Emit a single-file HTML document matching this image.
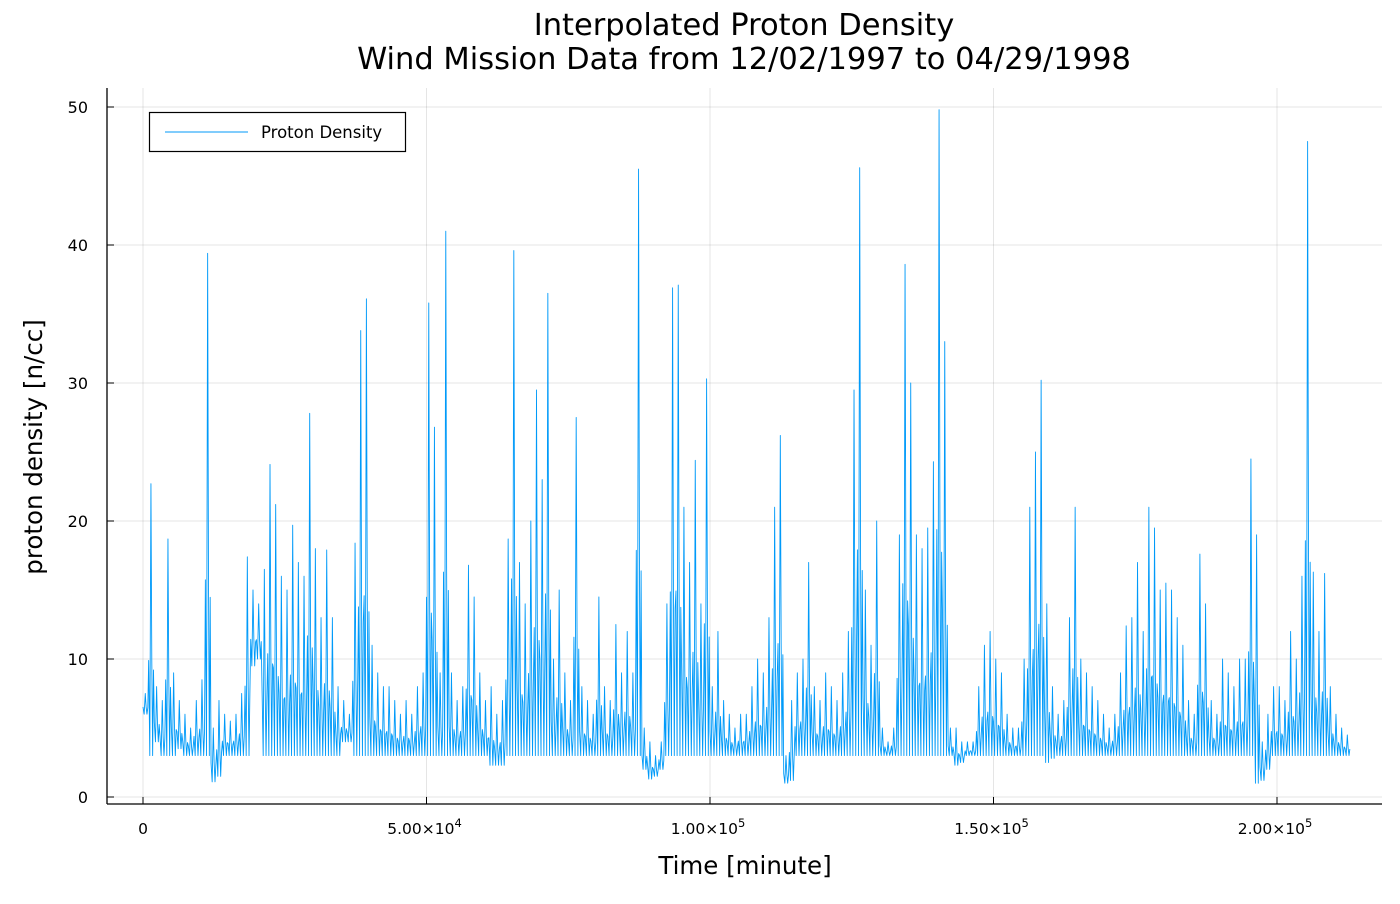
<!DOCTYPE html>
<html><head><meta charset="utf-8"><style>
body{margin:0;background:#fff;font-family:"DejaVu Sans","Liberation Sans",sans-serif}
svg text{font-family:"DejaVu Sans","Liberation Sans",sans-serif}
</style></head><body>
<svg id="chart" width="1400" height="900" viewBox="0 0 1400 900" xmlns="http://www.w3.org/2000/svg">
<rect width="1400" height="900" fill="#fff"/>
<g id="grid"></g>
<g id="series"></g>
<g id="axes"></g>
<text x="744" y="35" font-size="30.5" text-anchor="middle">Interpolated Proton Density</text>
<text x="744" y="69" font-size="30.5" text-anchor="middle">Wind Mission Data from 12/02/1997 to 04/29/1998</text>
<text x="745" y="874" font-size="24.5" text-anchor="middle">Time [minute]</text>
<text transform="translate(42,447) rotate(-90)" font-size="24.5" text-anchor="middle">proton density [n/cc]</text>
<g>
<rect x="149.5" y="112.5" width="256" height="39" fill="#fff" stroke="#000" stroke-width="1.2"/>
<line x1="165" y1="132" x2="248" y2="132" stroke="#009af9" stroke-width="1"/>
<text x="261" y="138" font-size="16.5">Proton Density</text>
</g>
</svg>
<script>
const binStartMinutes = 0;
const binWidthMinutes = 1000;
const highs = [7.5,22.7,8,7,18.7,9,7,6,5,7,
8.5,39.4,5,7,6,5.5,6,7.5,17.4,15,
14,16.5,24.1,21.2,16,15,19.7,17,16,27.8,
18,13,17.9,13,8,7,6,18.4,33.8,36.1,
11,9,8,8,7,6,7,6,8,9,
35.8,26.8,9,41,9,7,8,16.8,14.5,9,
7,8,6,7,18.7,39.6,17,14,20,29.5,
23,36.5,10,15,9,7,27.5,8,7,6,
14.5,8,7,12.5,9,12,9,45.5,5,4,
3,4,14,36.9,37.1,21,17,24.4,14,30.3,
8,12,7,6,5,6,6,8,10,9,
13,21,26.2,3,7,9,10,17,8,7,
9,8,7,9,12,29.5,45.6,15,11,20,
5,4,5,19,38.6,30,19,18,19.5,24.3,
49.8,33,5,5,4,4,4,8,11,12,
10,9,6,5,5,10,21,25,30.2,14,
8,6,7,13,21,10,9,8,7,6,
5,6,9,12.4,13,17,12,21,19.5,15,
15.5,15,13,11,7,6,17.6,14,7,6,
10,9,8,10,10,24.5,19,4,6,8,
8,7,12,10,16,47.5,16.3,12,16.2,8,
6,5,4.5];
const lows = [6,3,4,3,3,3,3.5,3,3,3,
3,3,1.1,1.5,3,3,3,3,3,9.5,
10,3,3,3,3,3,3,3,3,3,
3,3,3,3,3,4,4,3,3,3,
3,3,3,3,3,3,3,3,3,3,
3,3,3,3,3,3,3,3,3,3,
3,2.3,2.3,2.3,3,3,3,3,3,3,
3,3,3,3,3,3,3,3,3,3,
3,3,3,3,3,3,3,3,2,1.3,
1.5,2,3,3,3,3,3,3,3,3,
3,3,3,3,3,3,3,3,3,3,
3,3,3,1,1.2,3,3,3,3,3,
3,3,3,3,3,3,3,3,3,3,
3,3,3,3,3,3,3,3,3,3,
3,3,3,2.3,2.5,3,3,3,3,3,
3,3,3,3,3,3,3,3,3,2.5,
2.8,3,3,3,3,3,3,3,3,3,
3,3,3,3,3,3,3,3,3,3,
3,3,3,3,3,3,3,3,3,3,
3,3,3,3,3,3,1.0,1.2,2,3,
3,3,3,3,3,3,3,3,3,3,
3,3,3];
const xTicks = [0, 50000, 100000, 150000, 200000];
const xTickLabels = ["0", "5.00×10", "1.00×10", "1.50×10", "2.00×10"];
const xTickExp = ["", "4", "5", "5", "5"];
const yTicks = [0, 10, 20, 30, 40, 50];

const NS = "http://www.w3.org/2000/svg";
const X = v => 143 + v * (1134 / 200000);
const Y = v => 797 - v * 13.8;
function mk(tag, attrs, parent){const e=document.createElementNS(NS,tag);for(const k in attrs)e.setAttribute(k,attrs[k]);parent.appendChild(e);return e;}
const grid=document.getElementById('grid'), axes=document.getElementById('axes'), ser=document.getElementById('series');

xTicks.forEach((t,i)=>{
  const gl=mk('line',{x1:X(t),x2:X(t),y1:88,y2:804,stroke:'#000','stroke-opacity':0.1,'stroke-width':1},grid);
  
  
  const tk=mk('line',{x1:X(t),x2:X(t),y1:804,y2:797,stroke:'#000','stroke-width':1},axes);
  
  
  const tx=mk('text',{x:X(t)+(i?-2:0),y:834,'font-size':15.5,'text-anchor':'middle'},axes);
  
  
  tx.textContent=xTickLabels[i];
  if(xTickExp[i]){const ts=mk('tspan',{dy:-7,'font-size':11.5},tx);ts.textContent=xTickExp[i];}
});
yTicks.forEach(t=>{
  const gl=mk('line',{x1:107,x2:1382,y1:Y(t),y2:Y(t),stroke:'#000','stroke-opacity':0.1,'stroke-width':1},grid);
  
  
  const tk=mk('line',{x1:107,x2:114,y1:Y(t),y2:Y(t),stroke:'#000','stroke-width':1},axes);
  
  
  const tx=mk('text',{x:88,y:Y(t)+6,'font-size':16,'text-anchor':'end'},axes);
  
  
  tx.textContent=t;
});
const xa=mk('line',{x1:107,x2:1382,y1:804,y2:804,stroke:'#000','stroke-width':1.3},axes);


const ya=mk('line',{x1:107,x2:107,y1:88,y2:804,stroke:'#000','stroke-width':1.3},axes);



let d='';
highs.forEach((h,i)=>{
  const lo=lows[i], t=binStartMinutes+i*binWidthMinutes, w=binWidthMinutes;
  const mid=lo+(h-lo)*0.35;
  const pts=[[t,mid],[t+w*0.2,lo],[t+w*0.4,h],[t+w*0.55,mid],[t+w*0.7,lo],[t+w*0.85,mid*0.9+lo*0.1]];
  pts.forEach((p,j)=>{d+=(i===0&&j===0?'M':'L')+X(p[0]).toFixed(2)+','+Y(p[1]).toFixed(2);});
});
const path=mk('path',{d:d,fill:'none',stroke:'#009af9','stroke-width':0.9,'stroke-linejoin':'round'},ser);


</script>
</body></html>
